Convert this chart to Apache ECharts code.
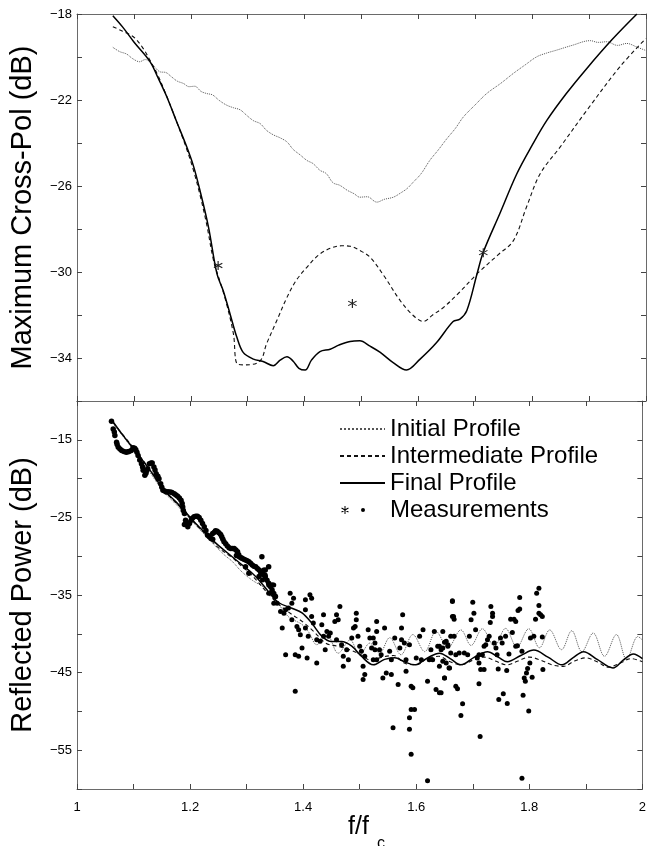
<!DOCTYPE html>
<html>
<head>
<meta charset="utf-8">
<script src="https://cdn.jsdelivr.net/npm/echarts@6/dist/echarts.min.js"></script>
<style>
html,body{margin:0;padding:0;background:#fff;}
#chart{width:649px;height:846px;}
</style>
</head>
<body>
<div id="chart"></div>
<script>
// ---------- Top panel: Maximum Cross-Pol (dB) ----------
const topInitial = [[1.063,-19.55],[1.075,-19.75],[1.087,-19.86],[1.098,-20.08],[1.11,-20.22],[1.12,-20.12],[1.128,-20.22],[1.137,-20.48],[1.146,-20.69],[1.156,-20.72],[1.166,-20.92],[1.176,-21.12],[1.187,-21.23],[1.197,-21.38],[1.207,-21.36],[1.218,-21.6],[1.228,-21.7],[1.238,-21.76],[1.25,-22.02],[1.263,-22.24],[1.275,-22.36],[1.287,-22.46],[1.298,-22.71],[1.31,-22.96],[1.322,-23.1],[1.333,-23.41],[1.345,-23.62],[1.357,-23.76],[1.369,-23.95],[1.38,-24.3],[1.392,-24.55],[1.404,-24.81],[1.415,-24.96],[1.427,-25.27],[1.438,-25.42],[1.45,-25.85],[1.462,-25.97],[1.475,-26.2],[1.487,-26.36],[1.497,-26.52],[1.51,-26.5],[1.527,-26.75],[1.54,-26.62],[1.556,-26.52],[1.569,-26.32],[1.58,-26.12],[1.591,-25.82],[1.605,-25.42],[1.62,-24.81],[1.635,-24.32],[1.65,-23.8],[1.665,-23.32],[1.679,-22.79],[1.7,-22.22],[1.72,-21.7],[1.745,-21.22],[1.767,-20.76],[1.788,-20.36],[1.808,-19.99],[1.825,-19.82],[1.843,-19.68],[1.87,-19.46],[1.902,-19.24],[1.916,-19.32],[1.931,-19.29],[1.95,-19.46],[1.966,-19.37],[1.985,-19.55],[2.0,-19.7]];
const topIntermediate = [[1.063,-18.59],[1.08,-18.8],[1.099,-19.06],[1.115,-19.55],[1.128,-20.14],[1.143,-20.9],[1.158,-21.85],[1.175,-23.0],[1.193,-24.3],[1.205,-25.3],[1.216,-26.4],[1.228,-27.8],[1.24,-29.47],[1.252,-30.5],[1.263,-31.49],[1.275,-32.89],[1.282,-34.28],[1.298,-34.32],[1.322,-34.13],[1.333,-33.35],[1.351,-32.27],[1.369,-31.18],[1.385,-30.4],[1.404,-29.78],[1.425,-29.2],[1.445,-28.9],[1.465,-28.78],[1.48,-28.8],[1.497,-29.0],[1.515,-29.31],[1.54,-30.2],[1.568,-31.33],[1.59,-32.0],[1.609,-32.3],[1.625,-32.0],[1.644,-31.65],[1.67,-31.0],[1.703,-30.09],[1.74,-29.2],[1.767,-28.54],[1.79,-26.98],[1.814,-25.43],[1.849,-24.19],[1.896,-22.48],[1.954,-20.46],[2.0,-19.13]];
const topFinal = [[1.063,-18.08],[1.08,-18.6],[1.1,-19.3],[1.128,-20.2],[1.143,-21.0],[1.158,-21.86],[1.175,-23.0],[1.193,-24.19],[1.205,-25.1],[1.216,-26.2],[1.231,-27.9],[1.246,-30.09],[1.257,-30.87],[1.269,-31.95],[1.281,-33.04],[1.292,-33.74],[1.31,-34.05],[1.327,-34.16],[1.345,-34.36],[1.357,-34.1],[1.369,-33.94],[1.38,-34.15],[1.39,-34.48],[1.401,-34.56],[1.412,-34.1],[1.427,-33.7],[1.445,-33.59],[1.46,-33.4],[1.48,-33.23],[1.497,-33.2],[1.515,-33.45],[1.533,-33.74],[1.555,-34.2],[1.579,-34.56],[1.603,-34.05],[1.632,-33.28],[1.661,-32.3],[1.673,-32.19],[1.685,-31.8],[1.703,-30.09],[1.714,-29.08],[1.743,-27.29],[1.773,-25.43],[1.8,-24.1],[1.826,-22.94],[1.86,-21.7],[1.896,-20.53],[1.94,-19.2],[1.984,-18.0]];
const topMeasured = [[1.248,-29.7],[1.484,-31.46],[1.714,-29.1]];

// ---------- Bottom panel: Reflected Power (dB) ----------
const botInitial = [[1.064,-12.9],[1.085,-14.9],[1.105,-16.8],[1.13,-19.3],[1.152,-21.6],[1.175,-23.3],[1.193,-24.7],[1.21,-26.0],[1.228,-27.4],[1.245,-28.7],[1.26,-29.8],[1.275,-30.7],[1.29,-31.9],[1.31,-33.1],[1.33,-34.0],[1.35,-35.5],[1.374,-37.8],[1.398,-38.8],[1.41,-39.8],[1.424,-41.4],[1.442,-40.1],[1.462,-42.5],[1.483,-40.8],[1.5,-42.7],[1.518,-41.2],[1.535,-42.5],[1.553,-40.5],[1.573,-42.7],[1.594,-40.1],[1.615,-42.3],[1.635,-39.7],[1.656,-41.8],[1.679,-39.5],[1.697,-41.5],[1.717,-39.35],[1.738,-41.6],[1.758,-39.3],[1.778,-41.7],[1.799,-39.35],[1.818,-41.8],[1.836,-39.5],[1.857,-42.05],[1.875,-39.6],[1.893,-42.3],[1.913,-39.9],[1.933,-42.9],[1.954,-40.1],[1.972,-43.3],[1.992,-40.35],[2.0,-40.8]];
const botIntermediate = [[1.064,-12.8],[1.085,-14.7],[1.105,-16.5],[1.13,-19.0],[1.152,-21.4],[1.175,-23.1],[1.193,-24.5],[1.21,-25.9],[1.228,-27.2],[1.25,-28.9],[1.275,-30.2],[1.29,-31.2],[1.31,-32.5],[1.339,-34.9],[1.36,-36.4],[1.38,-37.5],[1.4,-38.5],[1.42,-39.8],[1.44,-41.2],[1.46,-41.6],[1.48,-42.0],[1.5,-42.6],[1.52,-43.4],[1.54,-43.0],[1.56,-42.8],[1.58,-43.8],[1.6,-44.0],[1.62,-43.2],[1.64,-42.9],[1.66,-43.6],[1.68,-44.0],[1.7,-43.4],[1.72,-43.0],[1.74,-43.5],[1.76,-44.0],[1.78,-43.5],[1.8,-43.0],[1.82,-43.4],[1.84,-44.0],[1.86,-44.2],[1.88,-43.5],[1.9,-43.1],[1.92,-43.6],[1.94,-44.3],[1.96,-43.8],[1.98,-43.2],[2.0,-43.6]];
const botFinal = [[1.064,-12.7],[1.08,-14.3],[1.105,-16.6],[1.13,-19.0],[1.152,-21.3],[1.175,-23.0],[1.193,-24.4],[1.21,-25.8],[1.228,-27.1],[1.25,-28.6],[1.275,-30.1],[1.29,-31.0],[1.31,-32.2],[1.322,-33.1],[1.339,-34.6],[1.357,-36.0],[1.38,-36.7],[1.398,-37.3],[1.415,-38.6],[1.433,-40.3],[1.45,-41.0],[1.468,-41.0],[1.486,-41.6],[1.503,-42.9],[1.524,-44.0],[1.544,-43.3],[1.562,-43.1],[1.579,-43.6],[1.597,-44.0],[1.62,-43.1],[1.641,-42.5],[1.66,-43.2],[1.679,-44.0],[1.703,-43.0],[1.726,-42.3],[1.745,-43.0],[1.761,-43.6],[1.785,-42.8],[1.808,-42.1],[1.833,-43.0],[1.858,-44.0],[1.877,-43.1],[1.896,-42.3],[1.92,-43.3],[1.948,-44.4],[1.966,-43.4],[1.984,-42.6],[2.0,-43.2]];
// measurements: dense band at low frequencies
const botMeasuredDense = [[1.061,-12.61],[1.064,-13.6],[1.066,-14.0],[1.067,-14.45],[1.070,-15.31],[1.071,-15.6],[1.073,-15.95],[1.076,-16.2],[1.079,-16.37],[1.083,-16.5],[1.087,-16.59],[1.090,-16.55],[1.092,-16.5],[1.096,-16.37],[1.099,-16.03],[1.102,-16.1],[1.104,-16.29],[1.106,-16.6],[1.108,-17.02],[1.111,-17.6],[1.114,-18.09],[1.116,-18.5],[1.117,-18.94],[1.120,-19.58],[1.122,-19.3],[1.123,-19.0],[1.125,-18.73],[1.128,-18.09],[1.131,-18.0],[1.133,-18.0],[1.136,-18.51],[1.138,-18.9],[1.140,-19.37],[1.143,-19.7],[1.145,-20.01],[1.148,-20.65],[1.150,-21.1],[1.152,-21.51],[1.155,-21.6],[1.158,-21.72],[1.161,-21.7],[1.165,-21.72],[1.168,-21.8],[1.172,-21.94],[1.175,-22.1],[1.178,-22.28],[1.181,-22.5],[1.184,-22.79],[1.186,-23.2],[1.187,-23.65],[1.188,-24.1],[1.190,-24.50],[1.192,-25.36],[1.193,-25.8],[1.196,-26.22],[1.199,-25.8],[1.202,-25.36],[1.204,-25.1],[1.207,-24.93],[1.210,-24.85],[1.213,-24.85],[1.216,-25.0],[1.219,-25.36],[1.222,-25.8],[1.225,-26.22],[1.228,-26.7],[1.231,-27.29],[1.234,-27.5],[1.237,-27.71],[1.240,-27.07],[1.243,-26.9],[1.245,-26.73],[1.248,-26.8],[1.251,-26.99],[1.254,-27.2],[1.256,-27.50],[1.258,-27.8],[1.260,-28.14],[1.263,-28.4],[1.266,-28.70],[1.269,-28.9],[1.272,-29.0],[1.275,-29.0],[1.278,-29.0],[1.281,-29.2],[1.284,-29.43],[1.286,-29.8],[1.287,-30.07],[1.290,-30.2],[1.292,-30.28],[1.295,-30.4],[1.298,-30.5],[1.301,-30.6],[1.304,-30.71],[1.307,-30.9],[1.310,-31.14],[1.313,-31.3],[1.316,-31.35],[1.319,-31.6],[1.322,-31.78],[1.325,-32.0],[1.328,-32.21],[1.330,-32.4],[1.333,-32.64],[1.336,-33.1],[1.339,-33.49],[1.342,-33.9],[1.345,-34.35],[1.348,-34.8],[1.351,-35.2],[1.327,-30.07],[1.339,-31.35],[1.333,-31.78],[1.322,-32.6],[1.304,-32.2],[1.345,-33.7],[1.298,-31.35],[1.196,-25.7],[1.190,-25.9],[1.240,-27.8],[1.282,-29.9]];
// measurements: scattered points at higher frequencies
const botMeasuredScatter = [[1.330,-31.77],[1.325,-32.20],[1.333,-32.42],[1.328,-33.06],[1.339,-33.70],[1.348,-33.70],[1.345,-34.55],[1.339,-34.77],[1.351,-35.20],[1.348,-36.05],[1.354,-36.05],[1.360,-37.12],[1.366,-37.34],[1.369,-36.91],[1.374,-36.69],[1.380,-36.05],[1.377,-34.77],[1.383,-35.41],[1.404,-35.62],[1.412,-34.98],[1.415,-35.41],[1.404,-36.91],[1.363,-39.26],[1.369,-42.69],[1.380,-38.19],[1.389,-39.05],[1.386,-42.69],[1.392,-42.90],[1.395,-40.12],[1.398,-41.83],[1.392,-39.48],[1.404,-39.26],[1.409,-40.33],[1.407,-43.11],[1.415,-37.76],[1.418,-38.62],[1.424,-43.76],[1.424,-40.76],[1.430,-40.97],[1.433,-38.83],[1.436,-37.55],[1.436,-40.33],[1.442,-39.69],[1.445,-40.33],[1.448,-39.90],[1.439,-42.04],[1.456,-38.41],[1.459,-37.55],[1.462,-38.19],[1.465,-36.48],[1.459,-40.76],[1.468,-41.40],[1.471,-44.18],[1.471,-42.90],[1.477,-42.04],[1.480,-43.33],[1.486,-40.55],[1.489,-39.26],[1.492,-39.05],[1.494,-37.34],[1.494,-38.19],[1.497,-40.33],[1.500,-41.62],[1.503,-42.26],[1.506,-44.18],[1.509,-45.25],[1.506,-45.89],[1.509,-42.90],[1.515,-39.48],[1.518,-40.55],[1.524,-40.55],[1.527,-41.19],[1.530,-39.69],[1.530,-38.41],[1.521,-41.83],[1.527,-42.04],[1.530,-43.33],[1.524,-43.33],[1.535,-42.04],[1.538,-42.69],[1.541,-45.68],[1.547,-45.04],[1.544,-39.26],[1.553,-42.26],[1.556,-43.33],[1.556,-45.25],[1.562,-40.55],[1.559,-52.10],[1.568,-46.54],[1.571,-41.83],[1.574,-40.76],[1.574,-39.26],[1.576,-37.55],[1.579,-41.19],[1.582,-44.82],[1.582,-43.33],[1.588,-41.40],[1.591,-46.75],[1.594,-46.96],[1.591,-49.75],[1.597,-49.75],[1.588,-50.82],[1.588,-52.31],[1.591,-55.52],[1.600,-43.11],[1.606,-40.33],[1.609,-43.33],[1.612,-39.48],[1.620,-46.11],[1.623,-43.33],[1.626,-42.04],[1.629,-43.33],[1.632,-39.69],[1.638,-41.62],[1.641,-44.18],[1.635,-47.18],[1.641,-47.61],[1.647,-41.83],[1.650,-45.68],[1.653,-40.97],[1.656,-41.62],[1.658,-44.40],[1.661,-40.33],[1.664,-35.84],[1.664,-37.76],[1.667,-40.33],[1.670,-46.75],[1.620,-58.95],[1.386,-47.39],[1.664,-35.75],[1.666,-37.76],[1.667,-38.11],[1.647,-39.69],[1.650,-41.10],[1.656,-41.40],[1.641,-41.62],[1.644,-42.04],[1.647,-43.54],[1.653,-43.76],[1.659,-44.40],[1.650,-45.68],[1.644,-47.61],[1.673,-47.09],[1.682,-49.02],[1.679,-50.52],[1.661,-42.47],[1.670,-42.69],[1.676,-42.47],[1.685,-42.47],[1.691,-42.69],[1.694,-40.33],[1.697,-38.19],[1.700,-35.92],[1.702,-37.34],[1.705,-39.48],[1.708,-43.11],[1.711,-42.69],[1.711,-43.76],[1.714,-44.61],[1.720,-44.61],[1.711,-46.45],[1.713,-53.25],[1.717,-42.69],[1.720,-41.62],[1.723,-41.40],[1.726,-40.76],[1.729,-40.33],[1.732,-36.48],[1.735,-37.34],[1.735,-37.76],[1.731,-38.53],[1.738,-41.19],[1.741,-41.83],[1.743,-42.69],[1.745,-44.52],[1.746,-48.46],[1.749,-40.55],[1.752,-41.19],[1.754,-47.73],[1.758,-40.33],[1.760,-44.74],[1.761,-48.98],[1.764,-42.60],[1.767,-38.11],[1.770,-39.82],[1.773,-38.11],[1.776,-38.41],[1.776,-41.62],[1.779,-41.53],[1.780,-36.99],[1.783,-36.82],[1.783,-35.32],[1.787,-42.26],[1.789,-47.91],[1.791,-45.68],[1.793,-46.11],[1.795,-45.04],[1.797,-44.48],[1.801,-43.76],[1.799,-49.96],[1.802,-40.55],[1.805,-45.59],[1.808,-40.33],[1.811,-38.11],[1.813,-34.77],[1.817,-34.13],[1.817,-36.35],[1.817,-37.34],[1.823,-37.76],[1.820,-37.55],[1.824,-44.61],[1.823,-40.42],[1.787,-58.60]];

// ---------- Axis tick labels ----------
const xTickLabels = ['1', '1.2', '1.4', '1.6', '1.8', '2'];
const topYTickLabels = ['\u221218', '\u221222', '\u221226', '\u221230', '\u221234'];
const botYTickLabels = ['\u221215', '\u221225', '\u221235', '\u221245', '\u221255'];
const legendNames = ['Initial Profile', 'Intermediate Profile', 'Final Profile', 'Measurements'];

const FONT = 'Liberation Sans, Arial, Helvetica, sans-serif';
const ASTERISK = 'path://M4.4 0L5.6 0L5.6 10L4.4 10Z M0.4 3.02L1 1.98L9.6 6.98L9 8.02Z M1 8.02L0.4 6.98L9 1.98L9.6 3.02Z';
const LEGEND_MEAS = 'path://M0 0L0 0 M45 12L45 12 M4.5 2L5.5 2L5.5 10L4.5 10Z M1.3 4.4L1.8 3.6L8.7 7.6L8.2 8.4Z M1.8 8.4L1.3 7.6L8.2 3.6L8.7 4.4Z M21 6a2 2 0 1 0 4 0a2 2 0 1 0 -4 0Z';

function fmtNum(v){ return (v < 0 ? '\u2212' : '') + String(Math.abs(v)); }
function xLabel(v){
  const s = String(Math.round(v * 10) / 10);
  return xTickLabels.indexOf(s) >= 0 ? s : '';
}
function yLabelFrom(list){
  return function(v){ const s = fmtNum(Math.round(v)); return list.indexOf(s) >= 0 ? s : ''; };
}

const lineAxisStyle = { lineStyle: { color: '#6a6a6a', width: 1 } };
const tickStyle = { show: true, inside: true, length: 5, lineStyle: { color: '#444', width: 1 } };

function xAxisDef(gridIndex, position, showLabel){
  return {
    type: 'value', gridIndex: gridIndex, position: position, min: 1, max: 2, interval: 0.1,
    axisLine: Object.assign({ show: true, onZero: false }, lineAxisStyle),
    axisTick: tickStyle, splitLine: { show: false },
    axisLabel: { show: showLabel, formatter: xLabel, color: '#000', fontFamily: FONT, fontSize: 13, margin: 12 }
  };
}
function yAxisDef(gridIndex, position, min, max, interval, labels, name){
  return {
    type: 'value', gridIndex: gridIndex, position: position, min: min, max: max, interval: interval,
    axisLine: Object.assign({ show: true, onZero: false }, lineAxisStyle),
    axisTick: tickStyle, splitLine: { show: false },
    axisLabel: { show: !!labels, formatter: labels ? yLabelFrom(labels) : null, color: '#000', fontFamily: FONT, fontSize: 13, margin: 5 },
    name: name || '', nameLocation: 'middle', nameGap: 40, nameRotate: 90,
    nameTextStyle: { fontFamily: FONT, fontSize: 29, color: '#000' }
  };
}

const dotted = { type: 'dotted', width: 1, color: '#555' };
const dashed = { type: [4, 3], width: 1.1, color: '#111' };
const solid = { type: 'solid', width: 1.5, color: '#000' };
const noSymbol = { color: 'rgba(0,0,0,0)', borderColor: 'rgba(0,0,0,0)', borderWidth: 0 };

function lineSeries(name, data, xi, yi, style){
  return { name: name, type: 'line', xAxisIndex: xi, yAxisIndex: yi, data: data,
    showSymbol: false, symbol: 'none', smooth: 0.35, lineStyle: style, itemStyle: { color: style.color },
    silent: true, z: 3 };
}

const chart = echarts.init(document.getElementById('chart'), null, { renderer: 'canvas' });
chart.setOption({
  animation: false,
  backgroundColor: '#fff',
  grid: [
    { left: 77, top: 14, width: 569, height: 387 },
    { left: 77, top: 401, width: 569, height: 388 }
  ],
  xAxis: [
    xAxisDef(0, 'bottom', false),
    xAxisDef(0, 'top', false),
    xAxisDef(1, 'bottom', true),
    xAxisDef(1, 'top', false)
  ],
  yAxis: [
    yAxisDef(0, 'left', -36, -18, 2, topYTickLabels, 'Maximum Cross-Pol (dB)'),
    yAxisDef(0, 'right', -36, -18, 2, null, ''),
    yAxisDef(1, 'left', -60, -10, 5, botYTickLabels, 'Reflected Power (dB)'),
    yAxisDef(1, 'right', -60, -10, 5, null, '')
  ],
  legend: {
    orient: 'vertical', left: 339, top: 417, padding: 0, itemGap: 3, itemWidth: 45, itemHeight: 12,
    selectedMode: false,
    textStyle: { fontFamily: FONT, fontSize: 24, color: '#000', lineHeight: 24 },
    data: [
      { name: legendNames[0], itemStyle: noSymbol },
      { name: legendNames[1], itemStyle: noSymbol },
      { name: legendNames[2], itemStyle: noSymbol },
      { name: legendNames[3], icon: LEGEND_MEAS, itemStyle: { color: '#000', opacity: 1 } }
    ]
  },
  graphic: [
    { type: 'text', left: 348, top: 815, silent: true,
      style: { text: 'f/f', font: '25px ' + FONT, fill: '#000' } },
    { type: 'text', left: 377, top: 836, silent: true,
      style: { text: 'c', font: '16px ' + FONT, fill: '#000' } }
  ],
  series: [
    lineSeries(legendNames[0], topInitial, 0, 0, dotted),
    lineSeries(legendNames[1], topIntermediate, 0, 0, dashed),
    lineSeries(legendNames[2], topFinal, 0, 0, solid),
    { name: legendNames[3], type: 'scatter', xAxisIndex: 0, yAxisIndex: 0, data: topMeasured,
      symbol: ASTERISK, symbolSize: 9, itemStyle: { color: '#222', opacity: 1 }, silent: true, z: 4 },
    lineSeries(legendNames[0], botInitial, 2, 2, dotted),
    lineSeries(legendNames[1], botIntermediate, 2, 2, dashed),
    lineSeries(legendNames[2], botFinal, 2, 2, solid),
    { name: legendNames[3], type: 'scatter', xAxisIndex: 2, yAxisIndex: 2, data: botMeasuredDense,
      symbol: 'circle', symbolSize: 5.5, itemStyle: { color: '#000', opacity: 1, borderWidth: 0 }, silent: true, z: 4 },
    { name: legendNames[3], type: 'scatter', xAxisIndex: 2, yAxisIndex: 2, data: botMeasuredScatter,
      symbol: 'circle', symbolSize: 5, itemStyle: { color: '#000', opacity: 1, borderWidth: 0 }, silent: true, z: 4 }
  ]
});
</script>
</body>
</html>
